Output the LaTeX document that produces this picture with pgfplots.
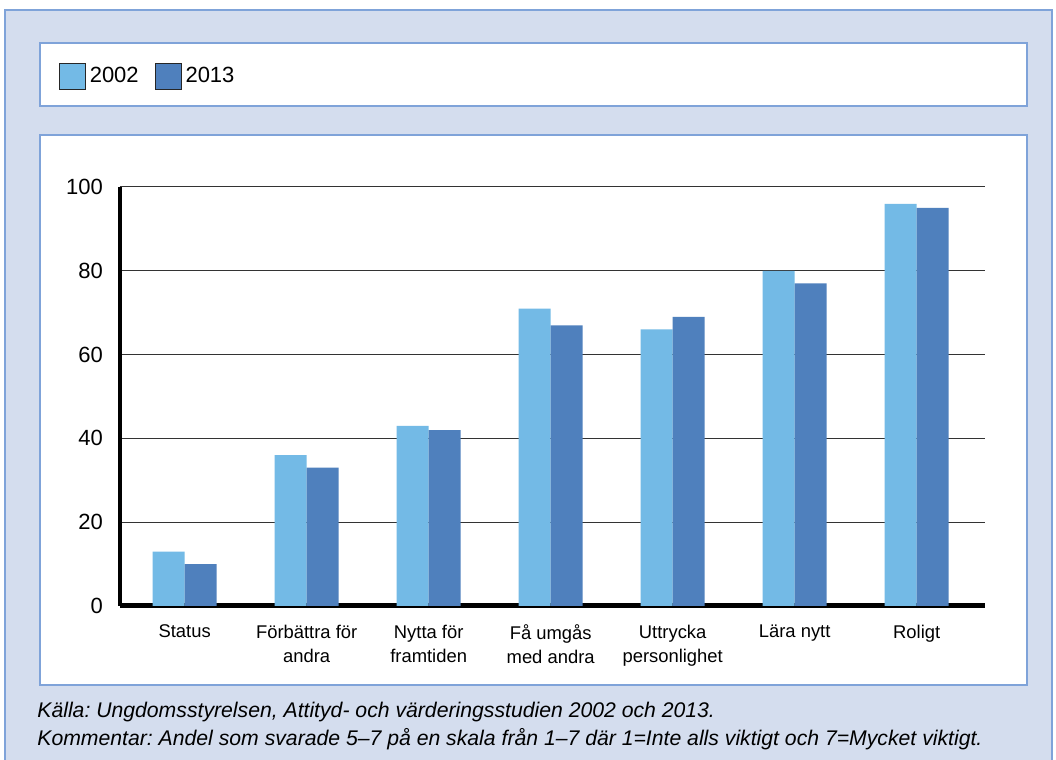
\documentclass[border=0pt]{standalone}
\usepackage{pgfplots}
\pgfplotsset{compat=1.18}
\usepackage{fontspec}
\setmainfont{Liberation Sans}
\frenchspacing
\definecolor{bgblue}{HTML}{D4DDEE}
\definecolor{framecol}{HTML}{7FA3D9}
\definecolor{light}{HTML}{73BAE6}
\definecolor{dark}{HTML}{4F80BD}
\definecolor{txt}{HTML}{231F20}
\begin{document}
\begin{tikzpicture}[x=0.5pt,y=0.5pt,font=\fontsize{9}{12}\selectfont\color{txt}]
\useasboundingbox (0,0) rectangle (1056,760);
\fill[white] (0,0) rectangle (1056,760);
\filldraw[fill=bgblue,draw=framecol,line width=0.6pt] (5,-5) rectangle (1052,750);
\filldraw[fill=white,draw=framecol,line width=0.6pt] (40,654) rectangle (1027,717);
\filldraw[fill=white,draw=framecol,line width=0.6pt] (40,75) rectangle (1027,625);
\begin{axis}[
    at={(60pt,77pt)}, anchor=south west,
    scale only axis, width=432.5pt, height=209.5pt,
    ybar=0pt, bar width=16pt,
    xmin=-0.53, xmax=6.56, ymin=0, ymax=100,
    ytick={0,20,40,60,80,100},
    xtick=data,
    xticklabels={Status, {Förbättra för\\andra}, {Nytta för\\framtiden}, {Få umgås\\med andra}, {Uttrycka\\personlighet}, Lära nytt, Roligt},
    xticklabel style={align=center, yshift=-6pt, font=\fontsize{9.2}{12}\selectfont},
    yticklabel style={xshift=-5pt, font=\fontsize{11}{13}\selectfont},
    /pgf/number format/assume math mode=true,
    major tick length=0pt,
    axis x line*=bottom, axis y line*=left,
    x axis line style={line width=2.5pt, -},
    y axis line style={line width=2pt, -},
    ymajorgrids, grid style={color=black!80, line width=0.5pt},
    legend columns=2,
    legend style={at={(-0.071,1.263)}, anchor=west, draw=none, fill=none,
        inner sep=0pt, font=\fontsize{11}{13}\selectfont,
        /tikz/every even column/.append style={column sep=6pt}},
    legend image code/.code={\draw[#1,draw=black!85,line width=0.4pt] (0pt,-6.5pt) rectangle (13pt,6.5pt);},
]
\addplot[fill=light, draw=none] coordinates {(0,13) (1,36) (2,43) (3,71) (4,66) (5,80) (6,96)};
\addplot[fill=dark, draw=none] coordinates {(0,10) (1,33) (2,42) (3,67) (4,69) (5,77) (6,95)};
\legend{2002,2013}
\end{axis}
\node[anchor=base west,inner sep=0pt,font=\fontsize{10.6}{12}\selectfont\itshape] at (37,42) {Källa: Ungdomsstyrelsen, Attityd- och värderingsstudien 2002 och 2013.};
\node[anchor=base west,inner sep=0pt,font=\fontsize{10.6}{12}\selectfont\itshape] at (37,14) {Kommentar: Andel som svarade 5–7 på en skala från 1–7 där 1=Inte alls viktigt och 7=Mycket viktigt.};
\end{tikzpicture}
\end{document}
